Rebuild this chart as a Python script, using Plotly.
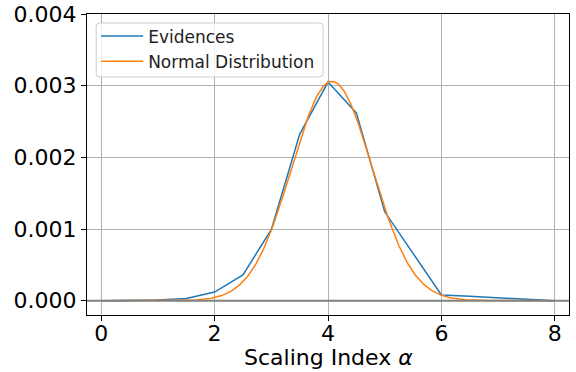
import numpy as np
import plotly.graph_objects as go

# Observed evidence values per scaling index
alpha = [0.0, 0.5, 1.0, 1.5, 2.0, 2.5, 3.0, 3.5, 4.0, 4.5, 5.0, 5.5, 6.0, 6.5, 7.0, 7.5, 8.0]
evidences = [0.0, 0.000005, 0.00001, 0.00003, 0.00012, 0.00036, 0.00099, 0.00232,
             0.00305, 0.00262, 0.00124, 0.00066, 0.00008, 0.00006, 0.00004, 0.00002, 0.0]

# Fitted normal distribution parameters
normal_mean = 4.07
normal_std = 0.71
normal_peak = 0.00306

x_ticks = [0, 2, 4, 6, 8]
y_ticks = [0.0, 0.001, 0.002, 0.003, 0.004]
y_tick_labels = ["0.000", "0.001", "0.002", "0.003", "0.004"]

xs = np.linspace(0, 8, 400)
normal_curve = normal_peak * np.exp(-((xs - normal_mean) ** 2) / (2 * normal_std ** 2))

fig = go.Figure()
fig.add_trace(go.Scatter(x=alpha, y=evidences, mode="lines", name="Evidences",
                         line=dict(color="#1f77b4", width=1.5)))
fig.add_trace(go.Scatter(x=xs, y=normal_curve, mode="lines", name="Normal Distribution",
                         line=dict(color="#ff7f0e", width=1.5)))

# Horizontal reference line at zero
fig.add_shape(type="line", xref="paper", yref="y", x0=0, x1=1, y0=0, y1=0,
              line=dict(color="gray", width=2), layer="above")

# Rounded legend frame (paper coordinates)
lx0, lx1, ly0, ly1 = 0.019, 0.4896, 0.791, 0.970
rx, ry = 0.007, 0.011
frame_path = (f"M {lx0 + rx},{ly0} L {lx1 - rx},{ly0} Q {lx1},{ly0} {lx1},{ly0 + ry} "
              f"L {lx1},{ly1 - ry} Q {lx1},{ly1} {lx1 - rx},{ly1} "
              f"L {lx0 + rx},{ly1} Q {lx0},{ly1} {lx0},{ly1 - ry} "
              f"L {lx0},{ly0 + ry} Q {lx0},{ly0} {lx0 + rx},{ly0} Z")
fig.add_shape(type="path", xref="paper", yref="paper", path=frame_path,
              fillcolor="rgba(255,255,255,0.8)", line=dict(color="#cccccc", width=1),
              layer="above")

font_family = "DejaVu Sans"
fig.update_layout(
    width=576, height=372,
    margin=dict(l=87, r=7, t=14, b=57, autoexpand=False),
    paper_bgcolor="white", plot_bgcolor="white",
    font=dict(family=font_family, color="black"),
    showlegend=True,
    legend=dict(x=0.019, y=0.985, xanchor="left", yanchor="top",
                bgcolor="rgba(0,0,0,0)", borderwidth=0,
                font=dict(size=17, color="#222222"), itemwidth=42,
                tracegroupgap=0),
    annotations=[dict(text="Scaling Index <i>α</i>", xref="paper", yref="paper",
                      x=0.5, y=-0.142, xanchor="center", yanchor="middle",
                      showarrow=False, font=dict(size=22, color="black"))],
)
fig.update_xaxes(range=[-0.25, 8.25], tickvals=x_ticks, ticks="outside", ticklen=5,
                 tickcolor="black", tickfont=dict(size=22), automargin=False,
                 ticklabelstandoff=-6,
                 showgrid=True, gridcolor="#b0b0b0", gridwidth=1,
                 showline=True, linecolor="black", linewidth=1, mirror=True,
                 zeroline=False)
fig.update_yaxes(range=[-0.0002, 0.004], tickvals=y_ticks, ticktext=y_tick_labels,
                 ticks="outside", ticklen=5, tickcolor="black", tickfont=dict(size=22),
                 automargin=False,
                 showgrid=True, gridcolor="#b0b0b0", gridwidth=1,
                 showline=True, linecolor="black", linewidth=1, mirror=True,
                 zeroline=False)

fig.write_html("out.html")
